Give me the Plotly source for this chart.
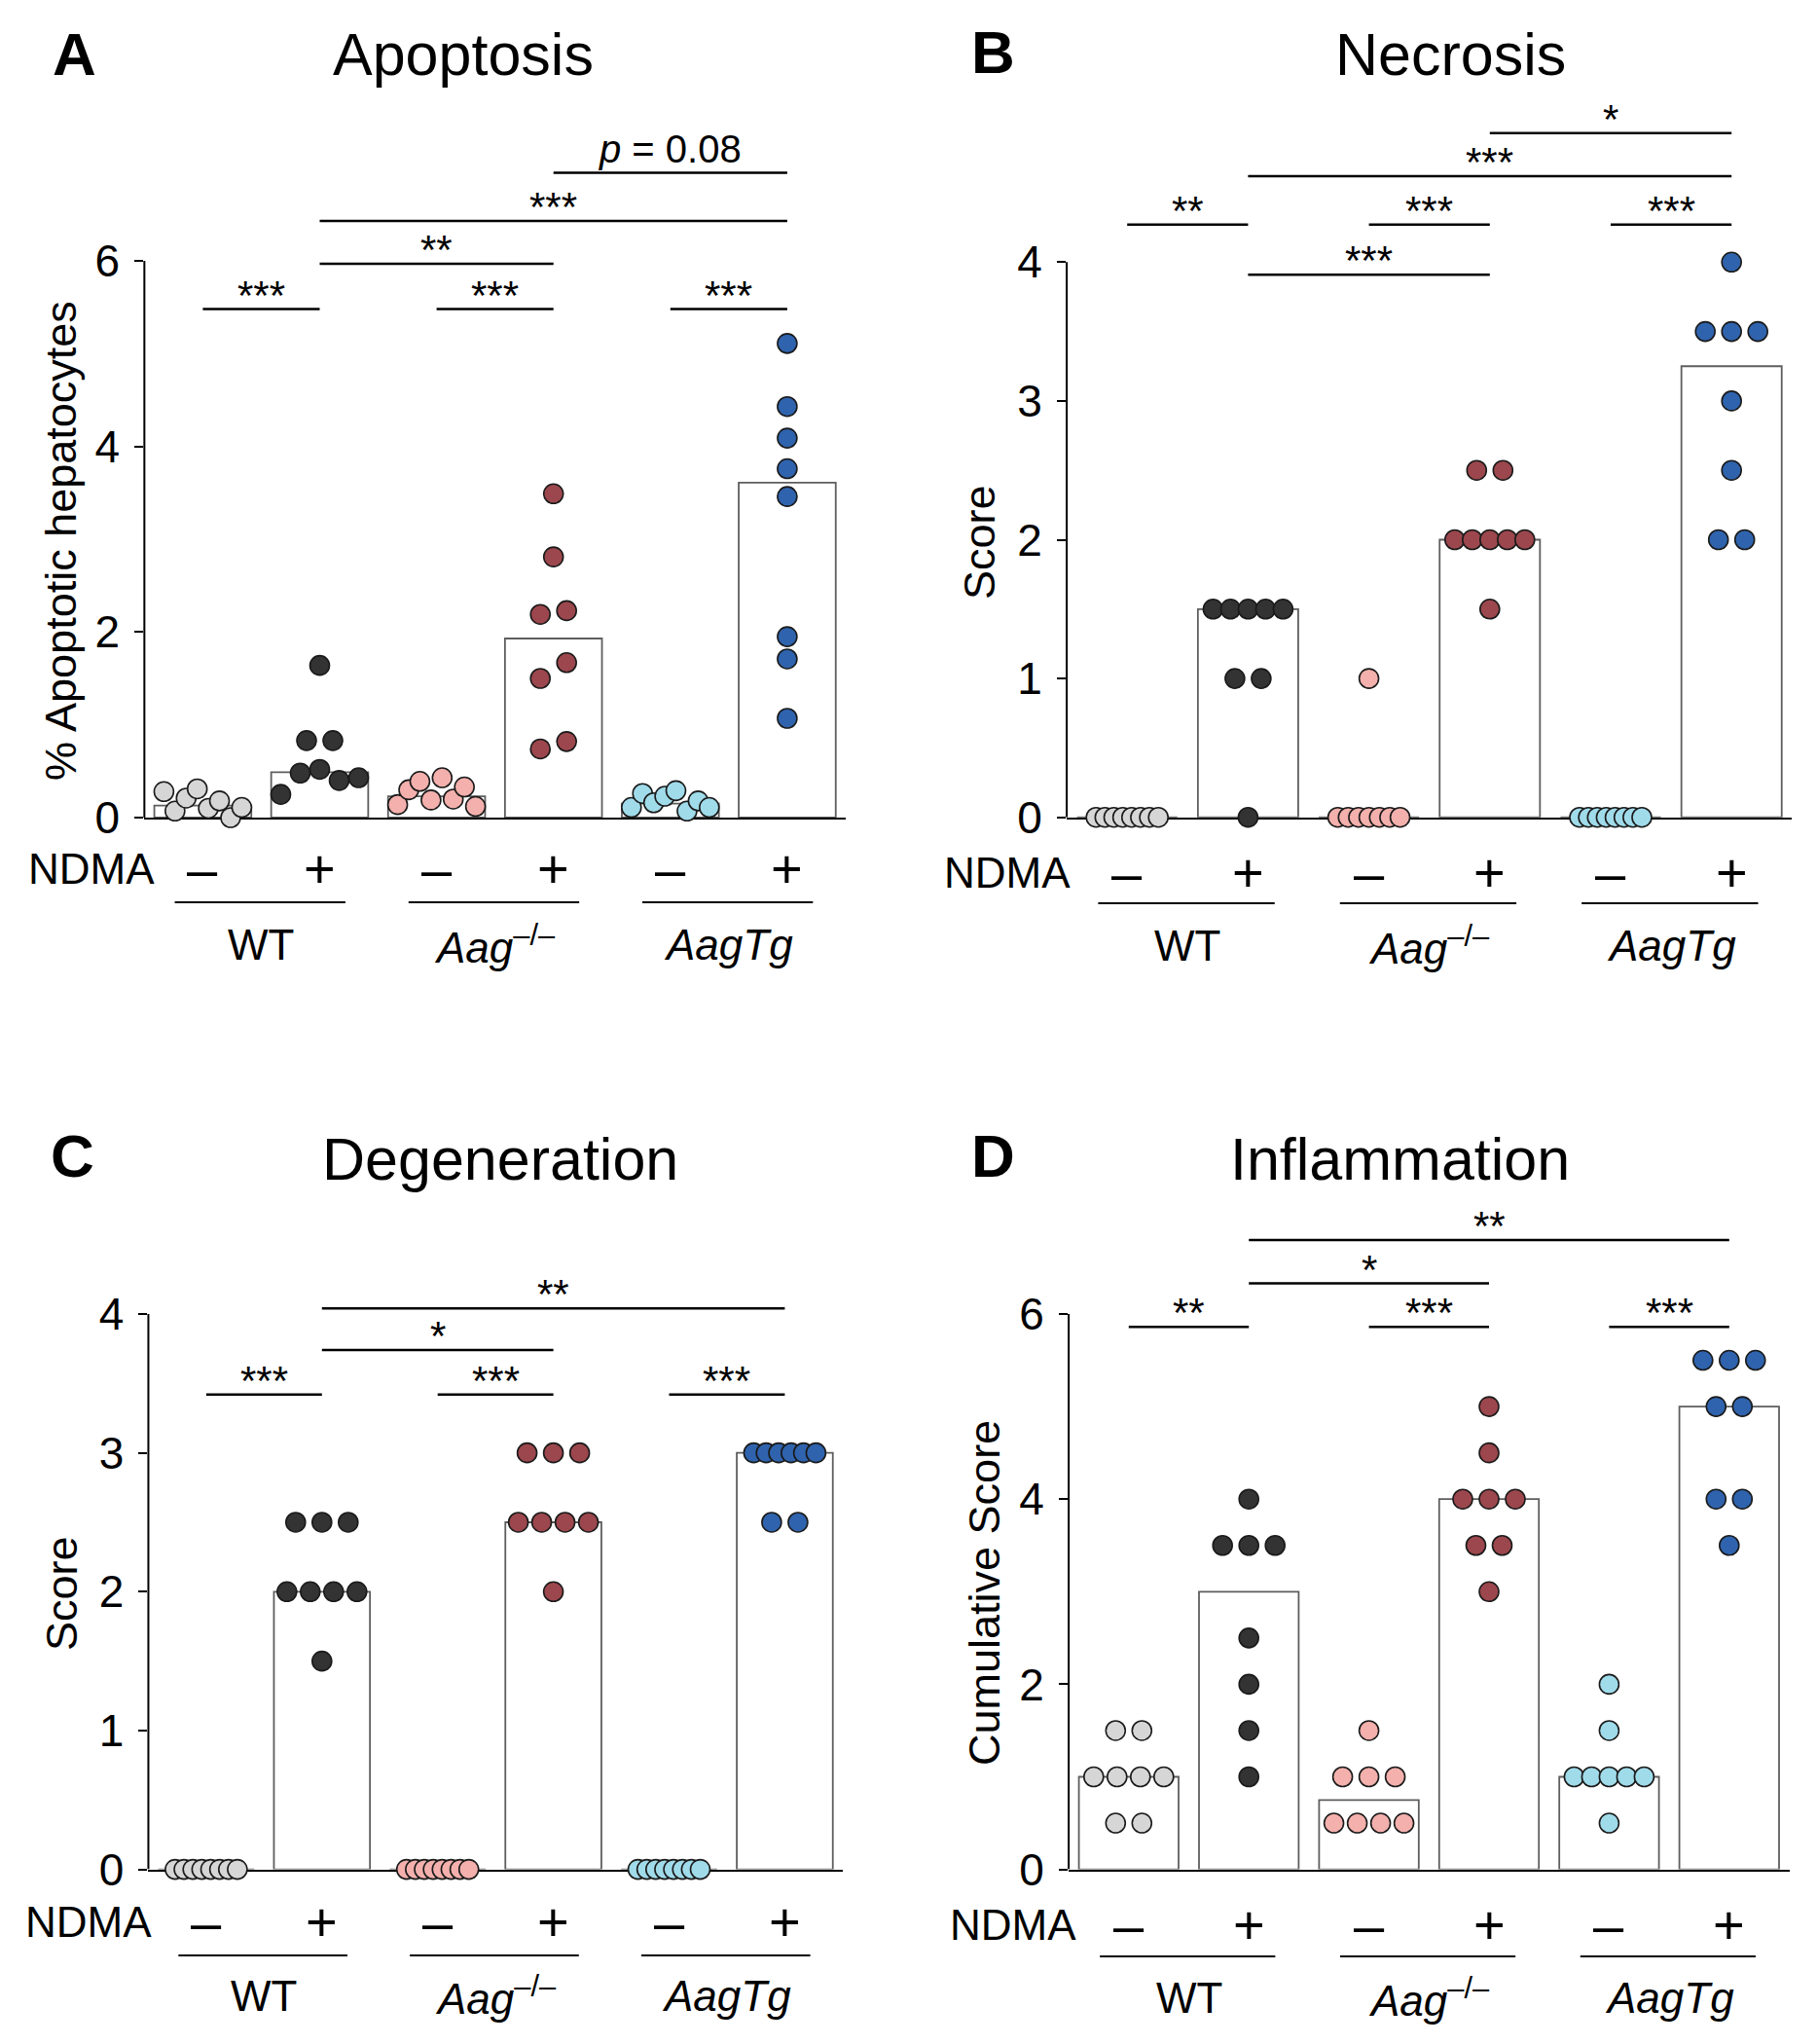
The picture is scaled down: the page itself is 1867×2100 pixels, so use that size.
import numpy as np
import plotly.graph_objects as go

# ---------------- data ----------------
group_keys = ["WT-", "WT+", "Aag-", "Aag+", "Tg-", "Tg+"]
ndma_labels = ["–", "+", "–", "+", "–", "+"]
genotype_labels = ["WT", "<i>Aag</i><sup>–/–</sup>", "<i>AagTg</i>"]
panel_titles = ["Apoptosis", "Necrosis", "Degeneration", "Inflammation"]
panel_letters = ["A", "B", "C", "D"]
y_titles = ["% Apoptotic hepatocytes", "Score", "Score", "Cumulative Score"]
y_ticks = [[0, 2, 4, 6], [0, 1, 2, 3, 4], [0, 1, 2, 3, 4], [0, 2, 4, 6]]
y_axis_max = [6, 4, 4, 6]

apoptosis_pts = [
    [0.28, 0.07, 0.21, 0.31, 0.10, 0.18, 0.00, 0.11],
    [0.25, 0.48, 0.52, 0.83, 1.64, 0.83, 0.40, 0.43],
    [0.14, 0.30, 0.39, 0.19, 0.43, 0.20, 0.33, 0.12],
    [3.49, 2.81, 2.19, 2.23, 1.50, 1.67, 0.74, 0.82],
    [0.11, 0.26, 0.16, 0.23, 0.29, 0.07, 0.18, 0.11],
    [5.11, 4.43, 4.09, 3.76, 3.46, 1.95, 1.71, 1.07],
]
apoptosis_bar = [0.13, 0.49, 0.23, 1.93, 0.15, 3.61]

necrosis_pts = [
    [0, 0, 0, 0, 0, 0, 0, 0],
    [1.5, 1.5, 1.5, 1.5, 1.5, 1.0, 1.0, 0.0],
    [1.0, 0, 0, 0, 0, 0, 0, 0],
    [2.5, 2.5, 2.0, 2.0, 2.0, 2.0, 2.0, 1.5],
    [0, 0, 0, 0, 0, 0, 0, 0],
    [4.0, 3.5, 3.5, 3.5, 3.0, 2.5, 2.0, 2.0],
]
necrosis_bar = [0, 1.5, 0, 2.0, 0, 3.25]

degeneration_pts = [
    [0, 0, 0, 0, 0, 0, 0, 0],
    [2.5, 2.5, 2.5, 2.0, 2.0, 2.0, 2.0, 1.5],
    [0, 0, 0, 0, 0, 0, 0, 0],
    [3.0, 3.0, 3.0, 2.5, 2.5, 2.5, 2.5, 2.0],
    [0, 0, 0, 0, 0, 0, 0, 0],
    [3.0, 3.0, 3.0, 3.0, 3.0, 3.0, 2.5, 2.5],
]
degeneration_bar = [0, 2.0, 0, 2.5, 0, 3.0]

inflammation_pts = [
    [1.5, 1.5, 1.0, 1.0, 1.0, 1.0, 0.5, 0.5],
    [4.0, 3.5, 3.5, 3.5, 2.5, 2.0, 1.5, 1.0],
    [1.5, 1.0, 1.0, 1.0, 0.5, 0.5, 0.5, 0.5],
    [5.0, 4.5, 4.0, 4.0, 4.0, 3.5, 3.5, 3.0],
    [2.0, 1.5, 1.0, 1.0, 1.0, 1.0, 1.0, 0.5],
    [5.5, 5.5, 5.5, 5.0, 5.0, 4.0, 4.0, 3.5],
]
inflammation_bar = [1.0, 3.0, 0.75, 4.0, 1.0, 5.0]

# significance comparisons: (group a, group b, bracket height, label)
apoptosis_sig = [(0, 1, 5.48, "***"), (2, 3, 5.48, "***"), (4, 5, 5.48, "***"),
                 (1, 3, 5.97, "**"), (1, 5, 6.43, "***"), (3, 5, 6.95, "<i>p</i> = 0.08")]
necrosis_sig = [(0, 1, 4.27, "**"), (2, 3, 4.27, "***"), (4, 5, 4.27, "***"),
                (1, 3, 3.91, "***"), (1, 5, 4.62, "***"), (3, 5, 4.93, "*")]
degeneration_sig = [(0, 1, 3.42, "***"), (2, 3, 3.42, "***"), (4, 5, 3.42, "***"),
                    (1, 3, 3.74, "*"), (1, 5, 4.04, "**")]
inflammation_sig = [(0, 1, 5.86, "**"), (2, 3, 5.86, "***"), (4, 5, 5.86, "***"),
                    (1, 3, 6.33, "*"), (1, 5, 6.80, "**")]

all_pts = [apoptosis_pts, necrosis_pts, degeneration_pts, inflammation_pts]
all_bars = [apoptosis_bar, necrosis_bar, degeneration_bar, inflammation_bar]
all_sig = [apoptosis_sig, necrosis_sig, degeneration_sig, inflammation_sig]

# ---------------- style / layout ----------------
dot_colors = ["#d6d6d6", "#333333", "#f3b0ac", "#9c474d", "#a0dbea", "#2f63ad"]
FONT = "Liberation Sans, Arial, Helvetica, sans-serif"
OFF = 8            # browser body margin
W, H = 1851, 2084  # figure size in page pixels

# per-panel pixel geometry (reference page pixels)
geom = [
    dict(c0=208.4, step=120.1, y0=840.0, ppu=95.33, top=7.6,
         title=(475.5, 56), letter=(76, 56), ytitle=(63, 556), ndma=(94, 893),
         row=893, gline=927, glab=970),
    dict(c0=1158.2, step=124.2, y0=839.7, ppu=142.6, top=5.3,
         title=(1490.6, 56), letter=(1020, 54), ytitle=(1007, 557), ndma=(1035, 896),
         row=896, gline=928, glab=971),
    dict(c0=211.9, step=118.9, y0=1920.6, ppu=142.65, top=4.5,
         title=(514, 1191), letter=(74, 1187), ytitle=(63, 1637), ndma=(91, 1974),
         row=1974, gline=2009, glab=2050),
    dict(c0=1159.8, step=123.4, y0=1920.6, ppu=95.1, top=7.4,
         title=(1438.4, 1191), letter=(1020, 1187), ytitle=(1011, 1637), ndma=(1041, 1977),
         row=1977, gline=2010, glab=2052),
]


def px_x(x):
    return (x - OFF) / W


def px_y(y):
    return 1 - (y - OFF) / H


def swarm_offsets(vals, ppu, step_px, d_px=19.0, gap_px=27.0):
    """Prism-like scatter layout: near-equal values share a centred row."""
    vals = np.asarray(vals, float)
    order = sorted(range(len(vals)), key=lambda i: -vals[i])
    bins = []
    for i in order:
        if bins and (vals[bins[-1][-1]] - vals[i]) * ppu < d_px:
            bins[-1].append(i)
        else:
            bins.append([i])
    off = np.zeros(len(vals))
    for b in bins:
        b = sorted(b)
        n = len(b)
        if n > 1:
            exact = len(set(vals[b].tolist())) == 1
            if not exact:
                s = min(gap_px, 80.0 / (n - 1))
            elif n <= 5:
                s = min(gap_px, 72.0 / (n - 1))
            else:
                s = 64.0 / (n - 1)
            for k, i in enumerate(b):
                off[i] = (k - (n - 1) / 2) * s / step_px
    return off


fig = go.Figure()
shapes = []
annotations = []
layout_axes = {}

for p in range(4):
    g = geom[p]
    sfx = "" if p == 0 else str(p + 1)
    xa, ya = "x" + sfx, "y" + sfx
    left_px = g["c0"] - 0.5 * g["step"]
    right_px = g["c0"] + 5.5 * g["step"]
    bottom_px = g["y0"]
    top_px = g["y0"] - g["top"] * g["ppu"]
    xdom = [px_x(left_px), px_x(right_px)]
    ydom = [px_y(bottom_px), px_y(top_px)]

    layout_axes["xaxis" + sfx] = dict(
        domain=xdom, range=[-0.5, 5.5], anchor=ya, showline=True, linecolor="black",
        linewidth=2, showticklabels=False, ticks="", showgrid=False, zeroline=False,
        layer="below traces", fixedrange=True, automargin=False)
    layout_axes["yaxis" + sfx] = dict(
        domain=ydom, range=[0, g["top"]], anchor=xa, showline=False, tickvals=y_ticks[p],
        ticks="outside", ticklen=9, tickwidth=2, tickcolor="black", showgrid=False,
        zeroline=False, ticklabelstandoff=6, automargin=False,
        tickfont=dict(family=FONT, size=46, color="black"), fixedrange=True)

    # bars (group medians)
    fig.add_trace(go.Bar(
        x=list(range(6)), y=all_bars[p], width=0.83, xaxis=xa, yaxis=ya,
        marker=dict(color="white", line=dict(color="#5e5e5e", width=1.8)),
        showlegend=False, hoverinfo="skip"))

    # dots
    for gi in range(6):
        vals = all_pts[p][gi]
        offs = swarm_offsets(vals, g["ppu"], g["step"])
        fig.add_trace(go.Scatter(
            x=[gi + o for o in offs], y=vals, mode="markers", xaxis=xa, yaxis=ya,
            cliponaxis=False, showlegend=False, name=group_keys[gi],
            marker=dict(size=20, color=dot_colors[gi],
                        line=dict(color="#1a1a1a", width=1.6))))

    # y axis line from 0 to max tick
    shapes.append(dict(type="line", xref="paper", yref=ya, x0=xdom[0], x1=xdom[0],
                       y0=0, y1=y_axis_max[p], line=dict(color="black", width=2),
                       layer="below"))

    # significance brackets
    for a, b, h, lab in all_sig[p]:
        shapes.append(dict(type="line", xref=xa, yref=ya, x0=a, x1=b, y0=h, y1=h,
                           line=dict(color="black", width=2.5)))
        is_star = lab.startswith("*")
        annotations.append(dict(
            x=(a + b) / 2, y=h, xref=xa, yref=ya, text=lab, showarrow=False,
            xanchor="center", yanchor="bottom", yshift=-11 if is_star else 0,
            font=dict(family=FONT, size=42 if is_star else 40, color="black")))

    # NDMA row
    annotations.append(dict(x=px_x(g["ndma"][0]), y=px_y(g["ndma"][1]), xref="paper",
                            yref="paper", text="NDMA", showarrow=False, xanchor="center",
                            yanchor="middle", font=dict(family=FONT, size=44, color="black")))
    for gi in range(6):
        annotations.append(dict(x=gi, y=px_y(g["row"]), xref=xa, yref="paper",
                                text=ndma_labels[gi], showarrow=False, xanchor="center",
                                yanchor="middle",
                                font=dict(family=FONT, size=56, color="black")))
    # genotype lines + labels
    for k in range(3):
        shapes.append(dict(type="line", xref=xa, yref="paper", x0=2 * k - 0.24,
                           x1=2 * k + 1.22, y0=px_y(g["gline"]), y1=px_y(g["gline"]),
                           line=dict(color="black", width=2)))
        annotations.append(dict(x=2 * k + 0.5, y=px_y(g["glab"]), xref=xa, yref="paper",
                                text=genotype_labels[k], showarrow=False,
                                xanchor="center", yanchor="middle",
                                font=dict(family=FONT, size=44, color="black")))
    # titles
    annotations.append(dict(x=px_x(g["title"][0]), y=px_y(g["title"][1]), xref="paper",
                            yref="paper", text=panel_titles[p], showarrow=False,
                            xanchor="center", yanchor="middle",
                            font=dict(family=FONT, size=61, color="black")))
    annotations.append(dict(x=px_x(g["letter"][0]), y=px_y(g["letter"][1]), xref="paper",
                            yref="paper", text="<b>" + panel_letters[p] + "</b>",
                            showarrow=False, xanchor="center", yanchor="middle",
                            font=dict(family=FONT, size=62, color="black")))
    annotations.append(dict(x=px_x(g["ytitle"][0]), y=px_y(g["ytitle"][1]), xref="paper",
                            yref="paper", text=y_titles[p], showarrow=False,
                            textangle=-90, xanchor="center", yanchor="middle",
                            font=dict(family=FONT, size=45, color="black")))

fig.update_layout(
    width=W, height=H, autosize=False, margin=dict(l=0, r=0, t=0, b=0, pad=0),
    paper_bgcolor="white", plot_bgcolor="white", showlegend=False,
    shapes=shapes, annotations=annotations, font=dict(family=FONT, color="black"),
    **layout_axes)

fig.write_html("out.html")
